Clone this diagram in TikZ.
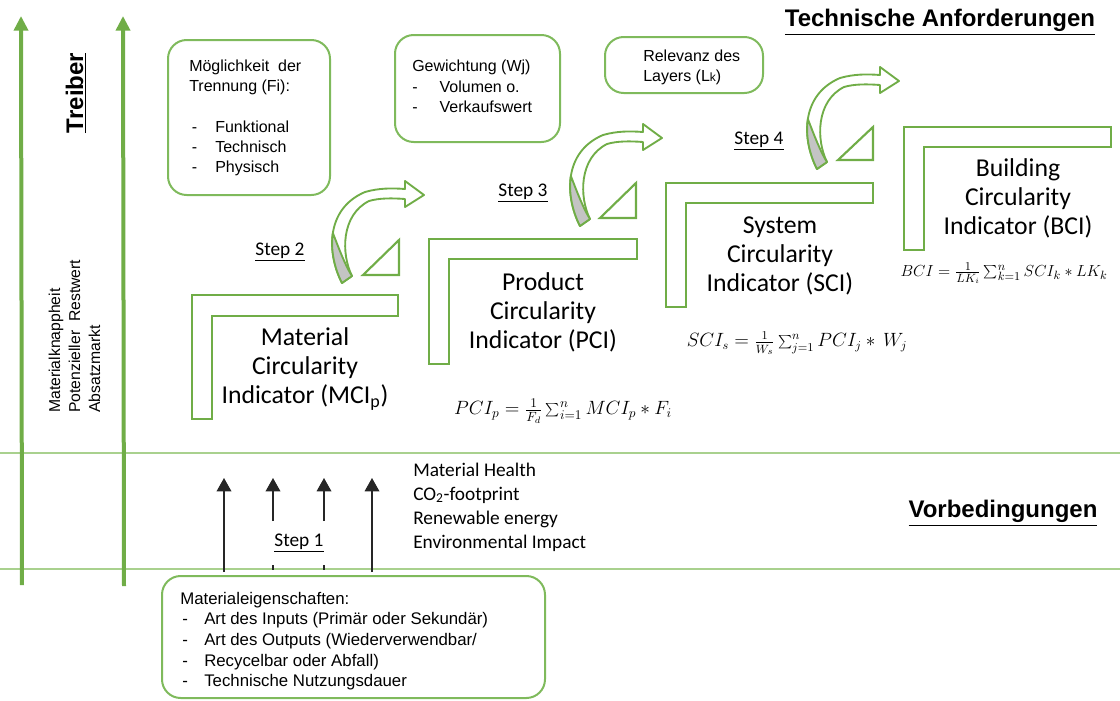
\documentclass[tikz,border=0pt]{standalone}
\usepackage{fontspec}
\setmainfont{Liberation Sans}
\newfontfamily\calibri{Carlito}
\usetikzlibrary{arrows.meta,fit}
\definecolor{grn}{HTML}{70AD47}
\definecolor{lgrn}{HTML}{A9D18E}
\definecolor{bgrn}{HTML}{7FBA5C}
\definecolor{shadegray}{HTML}{C4C4C4}
\tikzset{
  box/.style={draw=bgrn, line width=1.5pt, rounded corners=14pt, inner sep=0pt},
  txt/.style={font=\fontsize{12}{15}\selectfont, inner sep=0pt, align=left, anchor=north west},
  lshape/.style={draw=grn, line width=1.8pt, fill=white},
  tri/.style={draw=grn, line width=1.6pt, fill=white},
  title/.style={font=\calibri\fontsize{19.3}{21.75}\selectfont, align=center, inner sep=0pt},
  steplbl/.style={font=\calibri\fontsize{14.5}{17}\selectfont, inner sep=0pt},
  formula/.style={font=\fontsize{13.5}{16}\selectfont, inner sep=0pt},
  heading/.style={font=\bfseries\fontsize{18}{21}\selectfont, inner sep=0pt},
  axisarrow/.style={draw=grn, line width=3pt, -{Triangle[width=10.5pt,length=11pt]}},
  sep/.style={draw=lgrn, line width=1.5pt},
  blackarrow/.style={draw=black!85, line width=1pt, -{Triangle[width=11pt,length=10pt]}},
  curvarrow/.pic={
    \draw[draw=grn, line width=1.4pt, fill=white, line join=round]
      (-5,4) .. controls (-12.5,-10.5) and (-16.75,-29) .. (-14.125,-46)
      .. controls (-11.5,-63) and (-2,-78.5) .. (18,-87)
      .. controls (32,-91) and (45,-91) .. (58,-90)
      -- (58,-98) -- (77,-84) -- (58,-72) -- (58,-80)
      .. controls (45,-81) and (32,-81) .. (22,-78)
      .. controls (-6,-64) and (-6,-25) .. (5,-3) -- cycle;
    \draw[draw=grn, line width=1.4pt, fill=shadegray, line join=round]
      (-5,4) .. controls (-12.5,-10.5) and (-16.75,-29) .. (-14.125,-46)
      .. controls (-8,-30) and (-1,-12) .. (5,-3) -- cycle;
  }
}
\begin{document}
\begin{tikzpicture}[x=0.75pt,y=-0.75pt]
\useasboundingbox (0,0) rectangle (1120,700);

% separator lines
\coordinate (s1l) at (0,453); \coordinate (s1r) at (1120,453);
\coordinate (s2l) at (0,569); \coordinate (s2r) at (1120,569);
\draw[sep] (s1l) -- (s1r);
\draw[sep] (s2l) -- (s2r);

% green axis arrows
\coordinate (ax1b) at (22,585); \coordinate (ax1t) at (21,16);
\coordinate (ax2b) at (124,586); \coordinate (ax2t) at (123,16);
\draw[axisarrow] (ax1b) -- (ax1t);
\draw[axisarrow] (ax2b) -- (ax2t);

% headings
\node[heading] (tech) at (940,22) {\underline{Technische Anforderungen}};
\node[heading] (vorb) at (1003,513) {\underline{Vorbedingungen}};
\node[heading, rotate=90] (treiber) at (76,93) {\underline{Treiber}};

% rotated drivers
\node[font=\fontsize{11.8}{15}\selectfont, inner sep=0pt, align=left, rotate=90, anchor=base west] (drivers) at (100,413)
  {Materialknappheit\\Potenzieller\ \ Restwert\\Absatzmarkt};

% boxes
\node[box, fit={(168,40) (330,195)}] (trennbox) {};
\node[txt] (trenntxt) at (189,59.5) {M\"oglichkeit\ \ der\\Trennung (Fi):\\[16pt]
  \hspace*{2pt}\makebox[17.5pt][l]{-}Funktional\\
  \hspace*{2pt}\makebox[17.5pt][l]{-}Technisch\\
  \hspace*{2pt}\makebox[17.5pt][l]{-}Physisch};

\node[box, fit={(395,35) (560,142)}] (gewbox) {};
\node[txt, font=\fontsize{12}{15.5}\selectfont] (gewtxt) at (412,59.5) {Gewichtung (Wj)\\
  \makebox[20.5pt][l]{-}Volumen o.\\
  \makebox[20.5pt][l]{-}Verkaufswert};

\node[box, fit={(605,37) (763,93)}] (relbox) {};
\node[txt] (reltxt) at (643,49.5) {Relevanz des\\Layers (L{\fontsize{9}{9}\selectfont k})};

\node[box, fit={(162,576) (545,698)}] (matbox) {};
\node[txt, font=\fontsize{12.6}{15.4}\selectfont] (mattxt) at (180,592) {Materialeigenschaften:\\
  \hspace*{1.5pt}\makebox[16.5pt][l]{-}Art des Inputs (Prim\"ar oder Sekund\"ar)\\
  \hspace*{1.5pt}\makebox[16.5pt][l]{-}Art des Outputs\ (Wiederverwendbar/\\
  \hspace*{1.5pt}\makebox[16.5pt][l]{-}Recycelbar oder Abfall)\\
  \hspace*{1.5pt}\makebox[16.5pt][l]{-}Technische Nutzungsdauer};

% L shapes
\draw[lshape] (192,295) -- (398,295) -- (398,316) -- (212,316) -- (212,419) -- (192,419) -- cycle;
\draw[lshape] (429,239) -- (637,239) -- (637,259) -- (449,259) -- (449,364) -- (429,364) -- cycle;
\draw[lshape] (666,183) -- (873,183) -- (873,203) -- (686,203) -- (686,307) -- (666,307) -- cycle;
\draw[lshape] (904,127) -- (1111,127) -- (1111,147) -- (924,147) -- (924,250) -- (904,250) -- cycle;

% titles
\node[title] (mci) at (305,369) {Material\\Circularity\\Indicator (MCI\textsubscript{p})};
\node[title] (pci) at (543,312) {Product\\Circularity\\Indicator (PCI)};
\node[title] (sci) at (780,256) {System\\Circularity\\Indicator (SCI)};
\node[title] (bci) at (1018,198) {Building\\Circularity\\Indicator (BCI)};

% formulas
\node[formula, font=\fontsize{14}{16}\selectfont] (fpci) at (563,411) {$PCI_p=\frac{1}{F_d}\sum_{i=1}^{n}MCI_p*F_i$};
\node[formula] (fsci) at (797,343) {$SCI_s=\frac{1}{W_s}\sum_{j=1}^{n}PCI_j*\,W_j$};
\node[formula, font=\fontsize{12.6}{15}\selectfont] (fbci) at (1004,273) {$BCI=\frac{1}{LK_i}\sum_{k=1}^{n}SCI_k*LK_k$};

% triangles
\draw[tri] (363,275) -- (399,240) -- (399,275) -- cycle;
\draw[tri] (600,218) -- (636,183) -- (636,218) -- cycle;
\draw[tri] (838,160) -- (873,127) -- (873,160) -- cycle;

% curved arrows
\pic at (347,279) {curvarrow};
\pic at (585,222) {curvarrow};
\pic at (822,165) {curvarrow};

% step labels
\node[steplbl] (st2) at (280,252) {\underline{Step 2}};
\node[steplbl] (st3) at (523,193) {\underline{Step 3}};
\node[steplbl] (st4) at (759,141) {\underline{Step 4}};
\node[steplbl] (st1) at (299,543) {\underline{Step 1}};

% criteria list
\node[font=\calibri\fontsize{14.5}{18}\selectfont, inner sep=0pt, align=left, anchor=base west] (crit) at (413,548)
  {Material Health\\CO\textsubscript{2}-footprint\\Renewable energy\\Environmental Impact};

% black arrows (step 1)
\coordinate (b1s) at (224,572); \coordinate (b1e) at (224,478);
\coordinate (b2s) at (273,521); \coordinate (b2e) at (273,478);
\coordinate (b3s) at (324,521); \coordinate (b3e) at (324,478);
\coordinate (b4s) at (372,572); \coordinate (b4e) at (372,478);
\coordinate (t2a) at (273,565); \coordinate (t2b) at (273,570);
\coordinate (t3a) at (324,565); \coordinate (t3b) at (324,570);
\draw[blackarrow] (b1s) -- (b1e);
\draw[blackarrow] (b2s) -- (b2e);
\draw[blackarrow] (b3s) -- (b3e);
\draw[blackarrow] (b4s) -- (b4e);
\draw[draw=black!85, line width=1pt] (t2a) -- (t2b);
\draw[draw=black!85, line width=1pt] (t3a) -- (t3b);
\end{tikzpicture}
\end{document}
